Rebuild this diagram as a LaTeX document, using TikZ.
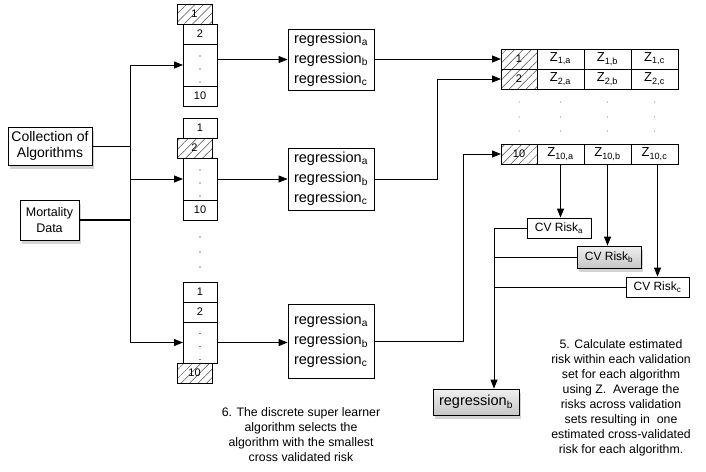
\documentclass[tikz,border=0pt]{standalone}
\usepackage{fontspec}
\setmainfont{Liberation Sans}
\usetikzlibrary{arrows.meta,positioning,calc,shadows,patterns.meta}
\tikzset{
  cell/.style={draw, minimum width=34pt, minimum height=20pt, inner sep=0pt, outer sep=0pt, font=\fontsize{11}{13}\selectfont},
  hcell/.style={cell, minimum width=35pt, pattern={Lines[angle=45,distance=6pt,line width=0.5pt]}, pattern color=black!70},
  dotcell/.style={cell, minimum height=42pt},
  zcell/.style={draw, minimum width=47pt, minimum height=20pt, inner sep=0pt, outer sep=0pt, font=\fontsize{13}{14}\selectfont},
  zhcell/.style={zcell, minimum width=36pt, font=\fontsize{11}{13}\selectfont, pattern={Lines[angle=45,distance=6pt,line width=0.5pt]}, pattern color=black!70},
  regbox/.style={draw, fill=white, align=left, minimum width=86pt, inner sep=0pt, font=\fontsize{14.5}{20}\selectfont},
  inbox/.style={draw, fill=white, align=center, line width=0.8pt, drop shadow={opacity=0.35, shadow xshift=1.5pt, shadow yshift=-3.5pt}},
  riskbox/.style={draw, fill=white, minimum width=64pt, minimum height=20pt, inner sep=0pt, font=\fontsize{12}{13}\selectfont},
  pickbox/.style={riskbox, top color=gray!12, bottom color=gray!45, drop shadow={opacity=0.35, shadow xshift=1.5pt, shadow yshift=-3.5pt}},
  arrow/.style={-{Triangle[length=9pt,width=7pt]}, line width=0.8pt},
  line/.style={line width=0.8pt},
  note/.style={align=center, font=\fontsize{12.3}{15}\selectfont}
}

\begin{document}
\begin{tikzpicture}[x=1pt, y=-1pt, line width=0.8pt]
  \useasboundingbox (0,0) rectangle (706,471);

  % inputs
  \node[inbox, minimum width=84pt, minimum height=38pt, font=\fontsize{14}{16}\selectfont] (coll) at (50,146) {Collection of\\Algorithms};
  \node[inbox, minimum width=59pt, minimum height=40pt, font=\fontsize{12.5}{16}\selectfont] (mort) at (49.5,220) {Mortality\\Data};

  % fold 1
  \node[cell] (f1c2) at (200,34) {2};
  \node[hcell, above=0pt of f1c2, xshift=-5.5pt] (f1h1) {1};
  \node[dotcell, below=0pt of f1c2] (f1dots) {};
  \node[cell, below=0pt of f1dots] (f1c10) {10};

  % fold 2
  \node[cell] (f2c1) at (200,128) {1};
  \node[hcell, below=0pt of f2c1, xshift=-5.5pt] (f2h2) {2};
  \node[dotcell] (f2dots) at (200,179) {};
  \node[cell, below=0pt of f2dots] (f2c10) {10};

  % fold 10
  \node[cell] (f3c1) at (200,292) {1};
  \node[cell, below=0pt of f3c1] (f3c2) {2};
  \node[dotcell, minimum height=41pt, below=0pt of f3c2] (f3dots) {};
  \node[hcell, below=0pt of f3dots, xshift=-5.5pt] (f3h10) {10};
  \foreach \n in {f1dots,f2dots,f3dots}
    \foreach \dy in {-9,4,17}
      \fill ($(\n)+(0,\dy)$) circle (0.6pt);
  \foreach \dy in {237,252,267}
    \fill (200,\dy) circle (0.6pt);

  % fits
  \node[regbox, minimum height=61pt] (reg1) at (331,59.5) {regression\textsubscript{a}\\regression\textsubscript{b}\\regression\textsubscript{c}};
  \node[regbox, minimum height=62pt] (reg2) at (331,179) {regression\textsubscript{a}\\regression\textsubscript{b}\\regression\textsubscript{c}};
  \node[regbox, minimum height=74pt] (reg3) at (331,341) {regression\textsubscript{a}\\regression\textsubscript{b}\\regression\textsubscript{c}};

  % predictions Z
  \node[zhcell] (t1h) at (519,59) {1};
  \node[zcell, right=0pt of t1h] (t1a) {Z\textsubscript{1,a}};
  \node[zcell, right=0pt of t1a] (t1b) {Z\textsubscript{1,b}};
  \node[zcell, right=0pt of t1b] (t1c) {Z\textsubscript{1,c}};
  \node[zhcell, below=0pt of t1h] (t2h) {2};
  \node[zcell, right=0pt of t2h] (t2a) {Z\textsubscript{2,a}};
  \node[zcell, right=0pt of t2a] (t2b) {Z\textsubscript{2,b}};
  \node[zcell, right=0pt of t2b] (t2c) {Z\textsubscript{2,c}};
  \node[zhcell] (t10h) at (519,154) {10};
  \node[zcell, right=0pt of t10h] (t10a) {Z\textsubscript{10,a}};
  \node[zcell, right=0pt of t10a] (t10b) {Z\textsubscript{10,b}};
  \node[zcell, right=0pt of t10b] (t10c) {Z\textsubscript{10,c}};
  \foreach \c in {t2h,t2a,t2b,t2c}
    \foreach \dy in {23,38,52}
      \fill[black!70] ($(\c)+(0,\dy)$) circle (0.5pt);

  % risks
  \node[riskbox] (riska) at (559,228) {CV Risk\textsubscript{a}};
  \node[pickbox, minimum height=22pt] (riskb) at (609,257) {CV Risk\textsubscript{b}};
  \node[riskbox, minimum width=63pt] (riskc) at (657.5,287) {CV Risk\textsubscript{c}};
  \node[pickbox, minimum width=86pt, minimum height=26pt, font=\fontsize{14.5}{16}\selectfont] (best) at (476,402) {regression\textsubscript{b}};
  \coordinate (trunk) at (130,66);
  \coordinate (collect) at (494,228);

  % arrows
  \draw[line] (coll.east) -- (coll.east -| trunk);
  \draw[line, line width=1.3pt] (mort.east) -- (mort.east -| trunk);
  \draw[line] (f1dots.west -| trunk) -- (f3dots.west -| trunk);
  \draw[arrow] (f1dots.west -| trunk) -- (f1dots.west);
  \draw[arrow] (f2dots.west -| trunk) -- (f2dots.west);
  \draw[arrow] (f3dots.west -| trunk) -- (f3dots.west);

  \draw[arrow] (f1dots.east |- reg1.west) -- (reg1.west);
  \draw[arrow] (f2dots.east) -- (f2dots.east -| reg2.west);
  \draw[arrow] (f3dots.east) -- (f3dots.east -| reg3.west);

  \draw[arrow] (reg1.east |- t1h.west) -- (t1h.west);
  \draw[arrow] (reg2.east) -- ++(63,0) |- (t2h.west);
  \draw[arrow] (reg3.east) -- ++(89,0) |- (t10h.west);

  \draw[arrow] (t10a.south) -- (t10a.south |- riska.north);
  \draw[arrow] (t10b.south) -- (t10b.south |- riskb.north);
  \draw[arrow] (riskc.north |- t10c.south) -- (riskc.north);

  \draw[line] (riska.west) -- (collect);
  \draw[line] (riskb.west) -- (riskb.west -| collect);
  \draw[line] (riskc.west) -- (riskc.west -| collect);
  \draw[arrow] (collect) -- (collect |- best.north);

  % notes
  \node[note] (step5) at (621,397.5) {5. Calculate estimated\\risk within each validation\\set for each algorithm\\using Z.~ Average the\\risks across validation\\sets resulting in~ one\\estimated cross-validated\\risk for each algorithm.};
  \node[note] (step6) at (301,435) {6. The discrete super learner\\algorithm selects the\\algorithm with the smallest\\cross validated risk};
\end{tikzpicture}
\end{document}
